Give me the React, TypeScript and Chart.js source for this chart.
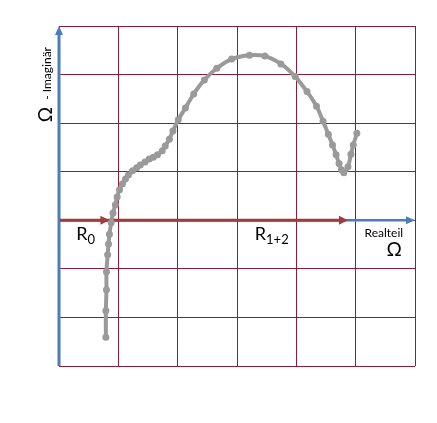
import React, { useEffect, useRef } from "react";
import { Chart, registerables } from "chart.js";

Chart.register(...registerables);

// Nyquist-like impedance curve (grid units)
const realPart = [
  0.79, 0.79, 0.80, 0.80, 0.82, 0.835, 0.85, 0.88, 0.91, 0.95, 0.98, 1.02, 1.07, 1.12, 1.17,
  1.24, 1.31, 1.37, 1.45, 1.52, 1.59, 1.66, 1.74, 1.79, 1.86, 1.92, 2.01, 2.13, 2.27, 2.45,
  2.66, 2.91, 3.21, 3.47, 3.74, 3.98, 4.18, 4.34, 4.45, 4.54, 4.61, 4.67, 4.72, 4.76, 4.80,
  4.87, 4.92, 4.96, 5.02,
];
const imagPart = [
  -2.41, -1.86, -1.43, -1.06, -0.71, -0.49, -0.29, -0.05, 0.15, 0.32, 0.48, 0.63, 0.75, 0.85, 0.93,
  1.02, 1.08, 1.14, 1.20, 1.26, 1.30, 1.35, 1.43, 1.53, 1.67, 1.84, 2.07, 2.31, 2.60, 2.89,
  3.13, 3.32, 3.40, 3.38, 3.22, 2.96, 2.65, 2.35, 2.04, 1.77, 1.55, 1.35, 1.17, 1.04, 0.98,
  1.10, 1.36, 1.55, 1.79,
];
const xRange = [0, 6];
const yRange = [-3, 4];
const r0End = 0.85;
const r12End = 4.87;

const GRID = "#8E1B3A";
const BLUE = "#4A7EBB";
const RED = "#A23B3B";
const GRAY = "#9A9A9A";
const FONT = "Lato, 'Liberation Sans', sans-serif";

function arrowHead(ctx: CanvasRenderingContext2D, tipX: number, tipY: number, dir: "right" | "up", len: number, half: number, color: string) {
  ctx.save();
  ctx.fillStyle = color;
  ctx.beginPath();
  if (dir === "right") {
    ctx.moveTo(tipX, tipY);
    ctx.lineTo(tipX - len, tipY - half);
    ctx.lineTo(tipX - len, tipY + half);
  } else {
    ctx.moveTo(tipX, tipY);
    ctx.lineTo(tipX - half, tipY + len);
    ctx.lineTo(tipX + half, tipY + len);
  }
  ctx.closePath();
  ctx.fill();
  ctx.restore();
}

const decorPlugin = {
  id: "decor",
  beforeDatasetsDraw(chart: any) {
    const ctx: CanvasRenderingContext2D = chart.ctx;
    const xs = chart.scales.x;
    const ys = chart.scales.y;
    const x0 = xs.getPixelForValue(xRange[0]);
    const x1 = xs.getPixelForValue(xRange[1]);
    const yTop = ys.getPixelForValue(yRange[1]);
    const yBot = ys.getPixelForValue(yRange[0]);
    const yZero = ys.getPixelForValue(0);
    ctx.save();
    // blue axes
    ctx.strokeStyle = BLUE;
    ctx.lineWidth = 3;
    ctx.beginPath();
    ctx.moveTo(x0, yBot);
    ctx.lineTo(x0, yTop + 6);
    ctx.stroke();
    arrowHead(ctx, x0, yTop, "up", 9, 4, BLUE);
    ctx.lineWidth = 2.5;
    ctx.beginPath();
    ctx.moveTo(x0, yZero);
    ctx.lineTo(x1 - 6, yZero);
    ctx.stroke();
    arrowHead(ctx, x1, yZero, "right", 9, 4, BLUE);
    // red arrows
    const rA = xs.getPixelForValue(r0End);
    const rB = xs.getPixelForValue(r12End);
    ctx.strokeStyle = RED;
    ctx.lineWidth = 3;
    ctx.beginPath();
    ctx.moveTo(x0 + 1, yZero);
    ctx.lineTo(rB - 6, yZero);
    ctx.stroke();
    arrowHead(ctx, rA, yZero, "right", 9, 4.5, RED);
    arrowHead(ctx, rB, yZero, "right", 9, 4.5, RED);
    ctx.restore();
  },
  afterDraw(chart: any) {
    const ctx: CanvasRenderingContext2D = chart.ctx;
    const xs = chart.scales.x;
    const ys = chart.scales.y;
    const yZero = ys.getPixelForValue(0);
    ctx.save();
    ctx.fillStyle = "#000";
    ctx.textBaseline = "alphabetic";
    ctx.textAlign = "left";
    // R0
    let rx = xs.getPixelForValue(0.29);
    ctx.font = `18px ${FONT}`;
    ctx.fillText("R", rx, yZero + 20);
    let w = ctx.measureText("R").width;
    ctx.font = `13px ${FONT}`;
    ctx.fillText("0", rx + w, yZero + 24);
    // R1+2
    rx = xs.getPixelForValue(3.3);
    ctx.font = `18px ${FONT}`;
    ctx.fillText("R", rx, yZero + 20);
    w = ctx.measureText("R").width;
    ctx.font = `13px ${FONT}`;
    ctx.fillText("1+2", rx + w, yZero + 24);
    // Realteil
    const rtx = xs.getPixelForValue(5.15);
    ctx.font = `12px ${FONT}`;
    ctx.fillText("Realteil", rtx, yZero + 17);
    ctx.font = `19px ${FONT}`;
    ctx.fillText("\u03A9", rtx + 22, yZero + 36);
    // Y label
    const lx = xs.getPixelForValue(0) - 7;
    const ly = ys.getPixelForValue(2.02);
    ctx.translate(lx, ly);
    ctx.rotate(-Math.PI / 2);
    ctx.font = `19px ${FONT}`;
    ctx.fillText("\u03A9", 0, 0);
    const ow = ctx.measureText("\u03A9").width;
    ctx.font = `12px ${FONT}`;
    ctx.fillText("- Imagin\u00E4r", ow + 7, -1);
    ctx.restore();
  },
};

export default function App() {
  const ref = useRef<HTMLCanvasElement>(null);
  useEffect(() => {
    if (!ref.current) return;
    const data = realPart.map((x, i) => ({ x, y: imagPart[i] }));
    const chart = new Chart(ref.current, {
      type: "scatter",
      data: {
        datasets: [
          {
            data,
            showLine: true,
            borderColor: GRAY,
            backgroundColor: GRAY,
            borderWidth: 4,
            pointRadius: 3.5,
            pointBorderWidth: 0,
            tension: 0.3,
          },
        ],
      },
      plugins: [decorPlugin],
      options: {
        animation: false,
        responsive: false,
        layout: { padding: { left: 51, top: 18, right: 14, bottom: 49 } },
        plugins: { legend: { display: false }, tooltip: { enabled: false } },
        scales: {
          x: {
            type: "linear",
            min: xRange[0],
            max: xRange[1],
            ticks: { display: false, stepSize: 1 },
            grid: { color: GRID, lineWidth: 1, drawTicks: false },
            border: { display: false },
            afterFit: (s: any) => { s.height = 0; },
          },
          y: {
            type: "linear",
            min: yRange[0],
            max: yRange[1],
            ticks: { display: false, stepSize: 1 },
            grid: { color: GRID, lineWidth: 1, drawTicks: false },
            border: { display: false },
            afterFit: (s: any) => { s.width = 0; },
          },
        },
      },
    });
    return () => chart.destroy();
  }, []);
  return <canvas ref={ref} width={421} height={407} />;
}
